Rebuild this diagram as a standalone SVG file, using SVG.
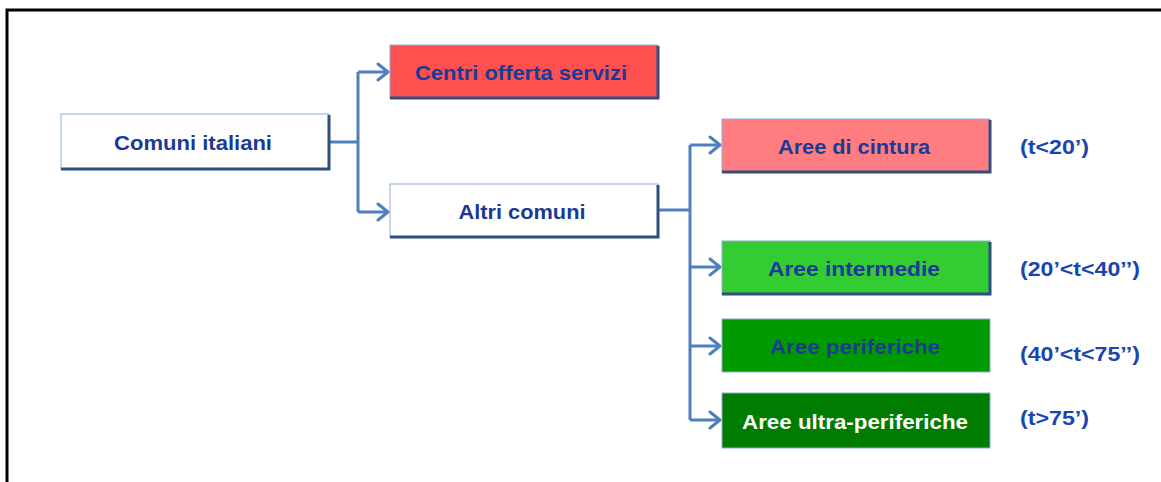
<svg xmlns="http://www.w3.org/2000/svg" width="1161" height="482" viewBox="0 0 1161 482">
<style>
.box{stroke:#8fabd6;stroke-width:1}
.shadow{fill:none;stroke:#2f4f80;stroke-width:3}
.lbl{font-family:"Liberation Sans",Arial,sans-serif;font-weight:bold;font-size:21px;fill:#1b3a94;text-anchor:middle}
.side{font-family:"Liberation Sans",Arial,sans-serif;font-weight:bold;font-size:21px;fill:#1b46b0}
.conn{fill:none;stroke:#4f7fbf;stroke-width:3}
.head{fill:none;stroke:#4f7fbf;stroke-width:3;stroke-linecap:round;stroke-linejoin:round}
</style>
<defs>
<marker id="arr" markerWidth="14" markerHeight="20" refX="12" refY="10" orient="auto" markerUnits="userSpaceOnUse">
<path d="M2,2 L12,10 L2,18" class="head"/>
</marker>
</defs>
<rect width="1161" height="482" fill="#ffffff"/>
<rect x="7" y="10" width="1200" height="520" fill="none" stroke="#000" stroke-width="3"/>

<g id="connectors">
<path class="conn" d="M330,142 H358"/>
<path class="conn" d="M358,72 V212"/>
<path class="conn" d="M358,72 H388" marker-end="url(#arr)"/>
<path class="conn" d="M358,212 H388" marker-end="url(#arr)"/>
<path class="conn" d="M658,210 H690"/>
<path class="conn" d="M690,145 V420"/>
<path class="conn" d="M690,145 H720" marker-end="url(#arr)"/>
<path class="conn" d="M690,267 H720" marker-end="url(#arr)"/>
<path class="conn" d="M690,346 H720" marker-end="url(#arr)"/>
<path class="conn" d="M690,420 H720" marker-end="url(#arr)"/>
</g>

<g id="comuni-italiani">
<rect class="box" x="61" y="114" width="268" height="55" fill="#ffffff"/>
<path class="shadow" d="M329,115 V169 H61"/>
<text class="lbl" x="193" y="150" textLength="158" lengthAdjust="spacingAndGlyphs">Comuni italiani</text>
</g>

<g id="centri-offerta-servizi">
<rect class="box" x="390" y="45" width="268" height="53" fill="#ff5050"/>
<path class="shadow" d="M658,46 V98 H390"/>
<text class="lbl" x="521" y="80" textLength="212" lengthAdjust="spacingAndGlyphs">Centri offerta servizi</text>
</g>

<g id="altri-comuni">
<rect class="box" x="390" y="184" width="268" height="53" fill="#ffffff"/>
<path class="shadow" d="M658,185 V237 H390"/>
<text class="lbl" x="522" y="219" textLength="127" lengthAdjust="spacingAndGlyphs">Altri comuni</text>
</g>

<g id="aree-di-cintura">
<rect class="box" x="722" y="119" width="268" height="53" fill="#ff7c80"/>
<path class="shadow" d="M990,120 V172 H722"/>
<text class="lbl" x="854" y="154" textLength="152" lengthAdjust="spacingAndGlyphs">Aree di cintura</text>
<text class="side" x="1020" y="154" textLength="69" lengthAdjust="spacingAndGlyphs">(t&lt;20’)</text>
</g>

<g id="aree-intermedie">
<rect class="box" x="722" y="241" width="268" height="53" fill="#33cc33"/>
<path class="shadow" d="M990,242 V294 H722"/>
<text class="lbl" x="854" y="276" textLength="172" lengthAdjust="spacingAndGlyphs">Aree intermedie</text>
<text class="side" x="1020" y="276" textLength="120" lengthAdjust="spacingAndGlyphs">(20’&lt;t&lt;40’’)</text>
</g>

<g id="aree-periferiche">
<rect class="box" x="722" y="319" width="268" height="53" fill="#009a00"/>
<text class="lbl" x="855" y="354" textLength="170" lengthAdjust="spacingAndGlyphs">Aree periferiche</text>
<text class="side" x="1020" y="361" textLength="120" lengthAdjust="spacingAndGlyphs">(40’&lt;t&lt;75’’)</text>
</g>

<g id="aree-ultra-periferiche">
<rect class="box" x="722" y="393" width="268" height="55" fill="#007c00"/>
<text class="lbl" x="855" y="429" textLength="226" lengthAdjust="spacingAndGlyphs" style="fill:#ffffff">Aree ultra-periferiche</text>
<text class="side" x="1020" y="425" textLength="69" lengthAdjust="spacingAndGlyphs">(t&gt;75’)</text>
</g>
</svg>
